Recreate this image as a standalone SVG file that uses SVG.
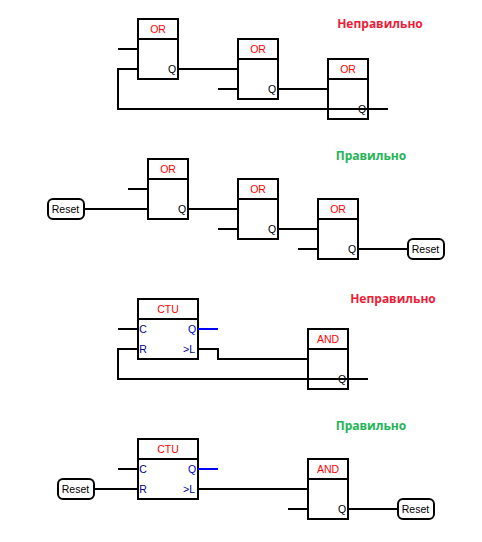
<svg xmlns="http://www.w3.org/2000/svg" width="482" height="542" viewBox="0 0 482 542">
<style>
.b{fill:#fff;stroke:#000;stroke-width:2}
.l{fill:none;stroke:#000;stroke-width:2}
.u{fill:none;stroke:#00f;stroke-width:2}
.r{fill:#fff;stroke:#000;stroke-width:2}
text{font-family:"Liberation Sans",Arial,sans-serif;font-size:10.500px}
.t{fill:#f00;text-anchor:middle}
.p{fill:#000;text-anchor:middle}
.c{fill:#00008b;text-anchor:middle}
.q{fill:#0000d0;text-anchor:middle}
.n{fill:#ed1c36;font-family:"Open Sans","Noto Sans",sans-serif;font-size:12px;font-weight:bold;text-anchor:middle}
.g{fill:#22b455;font-family:"Open Sans","Noto Sans",sans-serif;font-size:12px;font-weight:bold;text-anchor:middle}
</style>
<rect width="482" height="542" fill="#fff"/>
<g id="block-or-1"><rect class="b" x="138" y="19" width="40" height="60"/><path class="l" d="M138 39H178"/><text class="t" x="158" y="33">OR</text><text class="p" x="172" y="73">Q</text></g>
<g id="block-or-2"><rect class="b" x="238" y="39" width="40" height="60"/><path class="l" d="M238 59H278"/><text class="t" x="258" y="53">OR</text><text class="p" x="272" y="93">Q</text></g>
<g id="block-or-3"><rect class="b" x="328" y="59" width="40" height="60"/><path class="l" d="M328 79H368"/><text class="t" x="348" y="73">OR</text><text class="p" x="362" y="113">Q</text></g>
<g id="block-or-4"><rect class="b" x="148" y="159" width="40" height="60"/><path class="l" d="M148 179H188"/><text class="t" x="168" y="173">OR</text><text class="p" x="182" y="213">Q</text></g>
<g id="block-or-5"><rect class="b" x="238" y="179" width="40" height="60"/><path class="l" d="M238 199H278"/><text class="t" x="258" y="193">OR</text><text class="p" x="272" y="233">Q</text></g>
<g id="block-or-6"><rect class="b" x="318" y="199" width="40" height="60"/><path class="l" d="M318 219H358"/><text class="t" x="338" y="213">OR</text><text class="p" x="352" y="253">Q</text></g>
<g id="reset-1"><rect class="r" x="48" y="199" width="36" height="20" rx="5"/><text class="p" x="65.500" y="213">Reset</text></g>
<g id="reset-2"><rect class="r" x="408" y="239" width="36" height="20" rx="5"/><text class="p" x="425.500" y="253">Reset</text></g>
<g id="block-ctu-1"><rect class="b" x="138" y="299" width="60" height="60"/><path class="l" d="M138 319H198"/><text class="t" x="168" y="313">CTU</text><text class="c" x="143" y="333">C</text><text class="c" x="143" y="353">R</text><text class="q" x="192" y="333">Q</text><text class="c" x="189" y="353">&gt;L</text></g>
<g id="block-and-1"><rect class="b" x="308" y="329" width="40" height="60"/><path class="l" d="M308 349H348"/><text class="t" x="328" y="343">AND</text><text class="p" x="342" y="383">Q</text></g>
<g id="block-ctu-2"><rect class="b" x="138" y="439" width="60" height="60"/><path class="l" d="M138 459H198"/><text class="t" x="168" y="453">CTU</text><text class="c" x="143" y="473">C</text><text class="c" x="143" y="493">R</text><text class="q" x="192" y="473">Q</text><text class="c" x="189" y="493">&gt;L</text></g>
<g id="block-and-2"><rect class="b" x="308" y="459" width="40" height="60"/><path class="l" d="M308 479H348"/><text class="t" x="328" y="473">AND</text><text class="p" x="342" y="513">Q</text></g>
<g id="reset-3"><rect class="r" x="58" y="479" width="36" height="20" rx="5"/><text class="p" x="75.500" y="493">Reset</text></g>
<g id="reset-4"><rect class="r" x="398" y="499" width="36" height="20" rx="5"/><text class="p" x="415.500" y="513">Reset</text></g>
<g id="connectors">
<path class="l" d="M118 49H138M138 69H118V109H388M178 69H238M218 89H238M278 89H328"/>
<path class="l" d="M128 189H148M84 209H148M188 209H238M218 229H238M278 229H318M298 249H318M358 249H408"/>
<path class="l" d="M118 329H138M138 349H118V379H368M198 349H218V359H308"/>
<path class="u" d="M198 329H218"/>
<path class="l" d="M118 469H138M94 489H138M198 489H308M288 509H308M348 509H398"/>
<path class="u" d="M198 469H218"/>
</g>
<text class="n" x="380" y="28">Неправильно</text>
<text class="g" x="371" y="160">Правильно</text>
<text class="n" x="393" y="303">Неправильно</text>
<text class="g" x="371" y="430">Правильно</text>
</svg>
